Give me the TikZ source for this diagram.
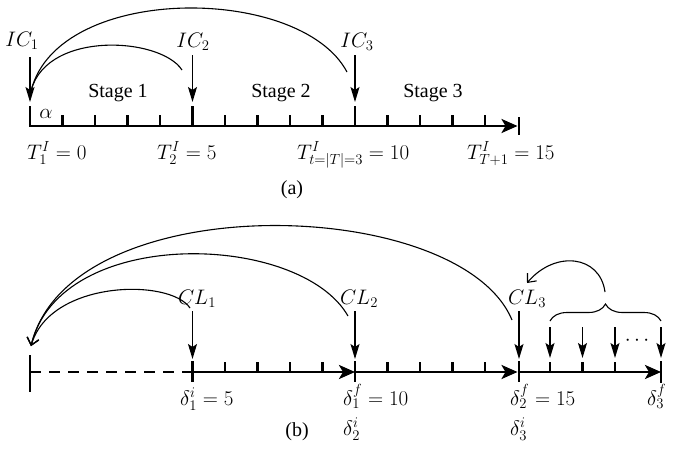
\RequirePackage{fix-cm}
\documentclass[tikz,border=0pt]{standalone}
\usepackage{fontspec}
\setmainfont{Liberation Serif}
\usetikzlibrary{arrows.meta,decorations.pathreplacing}
\begin{document}
\begin{tikzpicture}[x=1pt,y=-1pt,
  axisline/.style={line width=2.6pt},
  tickmark/.style={line width=2.4pt},
  axisarrow/.style={axisline,-{Stealth[length=16pt,width=14pt,inset=4pt]}},
  downarrow/.style={line width=1.2pt,-{Stealth[length=15pt,width=9pt,inset=3pt]}},
  arcline/.style={line width=1.1pt},
  arcarrow/.style={line width=1.1pt,-{Straight Barb[length=7pt,width=12pt]}},
  lbl/.style={font=\fontsize{21}{25}\selectfont, inner sep=0pt},
  txt/.style={font=\fontsize{20}{24}\selectfont, inner sep=0pt}]
\useasboundingbox (0,0) rectangle (686,451);

% ---------------- (a) ----------------
\coordinate (a0) at (30,126);
\coordinate (aend) at (517.5,126);
\draw[axisarrow] (a0) -- (aend);
\draw[tickmark] (30,106) -- (30,127.3);
\draw[tickmark] (192.5,106) -- (192.5,126);
\draw[tickmark] (355,106) -- (355,126);
\draw[tickmark] (519,117) -- (519,135);
\foreach \x in {62.5,95,127.5,160,225,257.5,290,322.5,387.5,420,452.5,485}
  \draw[tickmark] (\x,115) -- (\x,126);

\node[lbl] (ic1) at (22,41) {$IC_1$};
\node[lbl] (ic2) at (193,42) {$IC_2$};
\node[lbl] (ic3) at (357,42) {$IC_3$};
\coordinate (ic1s) at (30,57);  \coordinate (ic1e) at (30,102);
\coordinate (ic2s) at (192.5,55); \coordinate (ic2e) at (192.5,102);
\coordinate (ic3s) at (355,55); \coordinate (ic3e) at (355,102);
\draw[downarrow] (ic1s) -- (ic1e);
\draw[downarrow] (ic2s) -- (ic2e);
\draw[downarrow] (ic3s) -- (ic3e);

\coordinate (arcA1) at (182,70);
\coordinate (arcA2) at (347,72);
\coordinate (arcAend) at (30,96);
\draw[arcline] (arcA1) .. controls (160,36) and (40,30) .. (arcAend);
\draw[arcline] (arcA2) .. controls (300,-17) and (50,-17) .. (arcAend);

\node[txt] (st1) at (118,93) {Stage 1};
\node[txt] (st2) at (281,93) {Stage 2};
\node[txt] (st3) at (433,93) {Stage 3};
\node[lbl] (alpha) at (46,114) {$\alpha$};

\node[lbl, anchor=base west] (t1) at (27,159) {$T^{I}_{1} = 0$};
\node[lbl, anchor=base west] (t2) at (157,159) {$T^{I}_{2} = 5$};
\node[lbl, anchor=base west] (t3) at (297,159) {$T^{I}_{t=|T|=3} = 10$};
\node[lbl, anchor=base west] (t4) at (467,159) {$T^{I}_{T+1} = 15$};
\node[txt] (capa) at (292,190) {(a)};

% ---------------- (b) ----------------
\coordinate (b0) at (30,372);
\coordinate (b1) at (192.5,372);
\coordinate (b2) at (355,372);
\coordinate (b3) at (517.5,372);
\coordinate (b4) at (661,372);
\draw[axisline, dash pattern=on 11pt off 8pt] (b0) -- (b1);
\draw[axisarrow] (b1) -- (b2);
\draw[axisarrow] (b2) -- (b3);
\draw[axisarrow] (b3) -- (b4);
\draw[tickmark] (30,355) -- (30,392);
\draw[tickmark] (192.5,361) -- (192.5,382);
\draw[tickmark] (355,361) -- (355,382);
\draw[tickmark] (519,361) -- (519,382);
\draw[tickmark] (661,361) -- (661,383);
\foreach \x in {225,257.5,290,322.5,387.5,420,452.5,485,550,582.5,615}
  \draw[tickmark] (\x,362) -- (\x,372);

\node[lbl] (cl1) at (197,299) {$CL_1$};
\node[lbl] (cl2) at (359,299) {$CL_2$};
\node[lbl] (cl3) at (527,299) {$CL_3$};
\coordinate (cl1s) at (192.5,311); \coordinate (cl1e) at (192.5,359);
\coordinate (cl2s) at (355,311);   \coordinate (cl2e) at (355,359);
\coordinate (cl3s) at (519,311);   \coordinate (cl3e) at (519,359);
\draw[downarrow] (cl1s) -- (cl1e);
\draw[downarrow] (cl2s) -- (cl2e);
\draw[downarrow] (cl3s) -- (cl3e);

\coordinate (arcB1) at (190,308);
\coordinate (arcB2) at (348,316);
\coordinate (arcB3) at (512,320);
\coordinate (arcBend) at (31,346);
\draw[arcarrow] (arcB1) .. controls (170,278) and (50,280) .. (arcBend);
\draw[arcarrow] (arcB2) .. controls (300,232) and (60,225) .. (arcBend);
\draw[arcarrow] (arcB3) .. controls (460,195) and (70,185) .. (arcBend);

\foreach \x/\n in {550/p1,582.5/p2,615/p3,661/p4}{
  \coordinate (\n s) at (\x,327);
  \coordinate (\n e) at (\x,358);
  \draw[downarrow] (\n s) -- (\n e);
}
\node[lbl] (dots) at (637,341) {$\cdots$};

\coordinate (brL) at (550,321);
\coordinate (brR) at (661,321);
\draw[arcline, decorate, decoration={brace, amplitude=17pt}] (brL) -- (brR);
\coordinate (brtip) at (605,292);
\coordinate (brend) at (527,283);
\draw[arcarrow] (brtip) .. controls (600,255) and (555,250) .. (brend);

\node[lbl, anchor=base west] (d1) at (180,405) {$\delta^{i}_{1} = 5$};
\node[lbl, anchor=base west] (d2) at (343,405) {$\delta^{f}_{1} = 10$};
\node[lbl, anchor=base west] (d3) at (510,405) {$\delta^{f}_{2} = 15$};
\node[lbl, anchor=base west] (d4) at (647,405) {$\delta^{f}_{3}$};
\node[lbl, anchor=base west] (d5) at (343,435) {$\delta^{i}_{2}$};
\node[lbl, anchor=base west] (d6) at (510,435) {$\delta^{i}_{3}$};
\node[txt] (capb) at (297,432) {(b)};
\end{tikzpicture}
\end{document}
